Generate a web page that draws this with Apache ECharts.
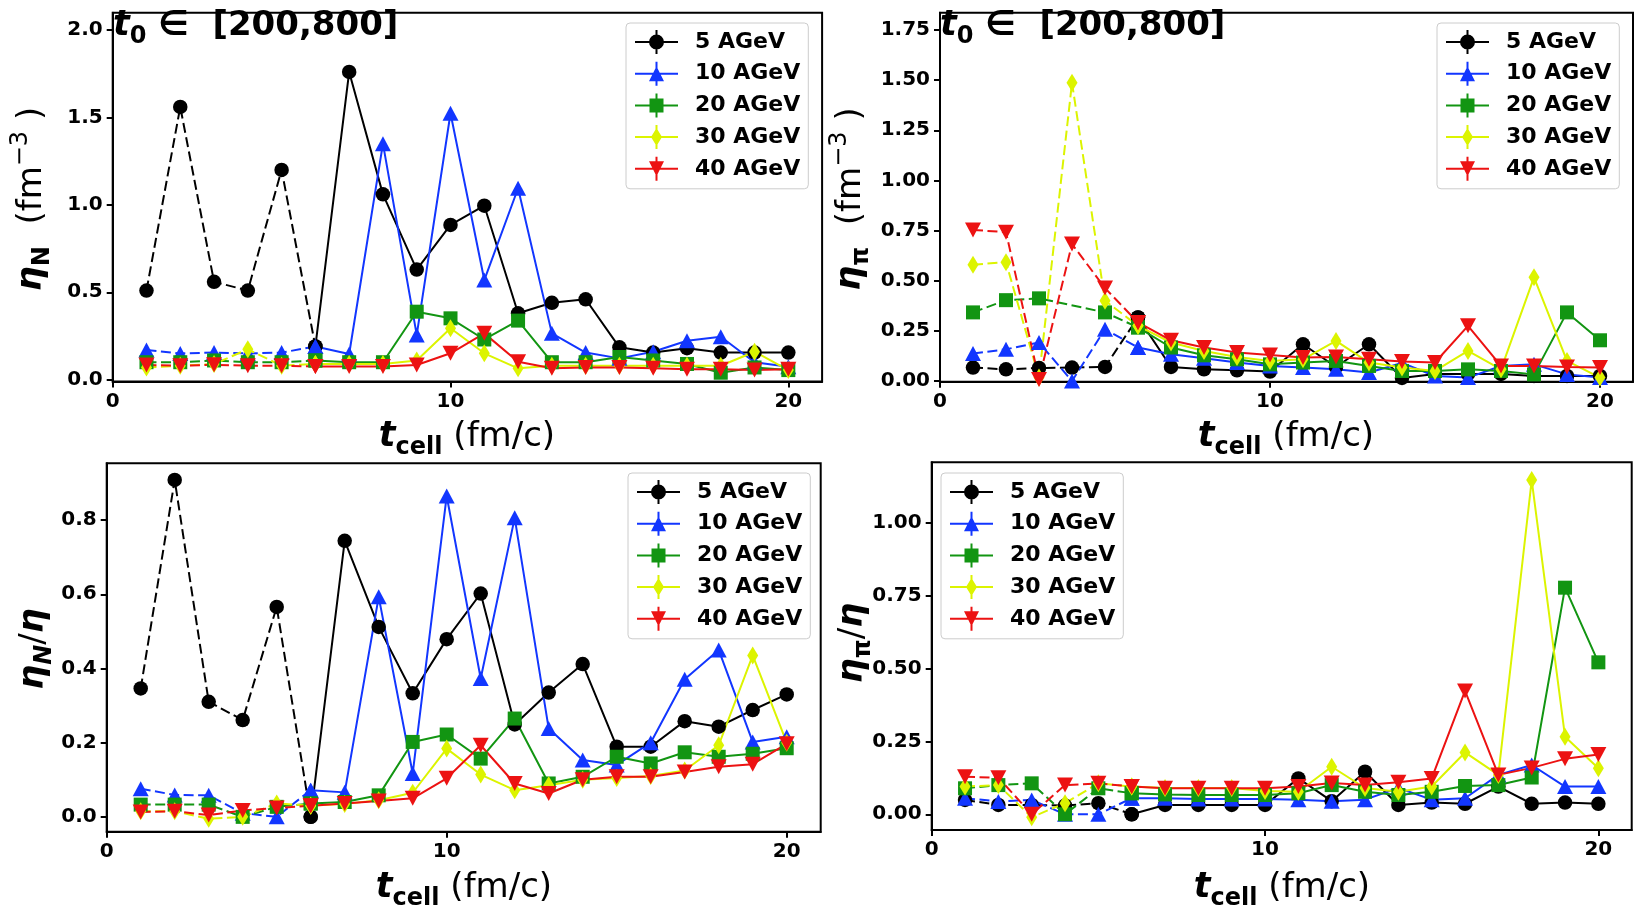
<!DOCTYPE html>
<html>
<head>
<meta charset="utf-8">
<script src="https://cdn.jsdelivr.net/npm/echarts@6/dist/echarts.min.js"></script>
<style>
  html, body { margin: 0; padding: 0; background: #ffffff; }
  #chart { width: 1634px; height: 907px; }
</style>
</head>
<body>
<div id="chart"></div>
<script>
// ---- data -------------------------------------------------------------
const tCell = [1, 2, 3, 4, 5, 6, 7, 8, 9, 10, 11, 12, 13, 14, 15, 16, 17, 18, 19, 20];
const energyLabels = ['5 AGeV', '10 AGeV', '20 AGeV', '30 AGeV', '40 AGeV'];

// nucleon density eta_N (fm^-3)
const etaN_5  = [0.51, 1.56, 0.56, 0.51, 1.20, 0.19, 1.76, 1.06, 0.63, 0.885, 0.995, 0.38, 0.44, 0.46, 0.185, 0.155, 0.18, 0.155, 0.155, 0.155];
const etaN_10 = [0.17, 0.15, 0.155, 0.15, 0.155, 0.19, 0.147, 1.35, 0.256, 1.524, 0.57, 1.095, 0.265, 0.155, 0.122, 0.16, 0.223, 0.246, 0.10, 0.074];
const etaN_20 = [0.10, 0.10, 0.11, 0.10, 0.10, 0.11, 0.10, 0.10, 0.389, 0.351, 0.23, 0.338, 0.10, 0.10, 0.13, 0.11, 0.09, 0.04, 0.07, 0.055];
const etaN_30 = [0.07, 0.08, 0.09, 0.174, 0.08, 0.09, 0.09, 0.09, 0.11, 0.294, 0.151, 0.065, 0.08, 0.08, 0.08, 0.08, 0.08, 0.08, 0.16, 0.055];
const etaN_40 = [0.084, 0.08, 0.085, 0.08, 0.08, 0.075, 0.075, 0.075, 0.084, 0.151, 0.265, 0.103, 0.065, 0.07, 0.07, 0.065, 0.06, 0.06, 0.055, 0.06];

// pion density eta_pi (fm^-3); null = no point at that time
const etaPi_5  = [0.067, 0.058, 0.065, 0.067, 0.07, 0.317, 0.07, 0.058, 0.053, 0.047, 0.183, 0.07, 0.183, 0.015, 0.035, 0.035, 0.035, 0.025, 0.025, 0.025];
const etaPi_10 = [0.137, 0.158, 0.192, 0.0, 0.258, 0.167, 0.133, 0.113, 0.092, 0.075, 0.067, 0.058, 0.042, 0.09, 0.025, 0.017, 0.075, 0.083, 0.033, 0.017];
const etaPi_20 = [0.342, 0.403, 0.412, null, 0.342, 0.267, 0.167, 0.128, 0.108, 0.083, 0.092, 0.10, 0.075, 0.05, 0.05, 0.058, 0.05, 0.033, 0.342, 0.203];
const etaPi_30 = [0.58, 0.592, 0.017, 1.487, 0.40, 0.275, 0.192, 0.15, 0.12, 0.10, 0.108, 0.20, 0.092, 0.067, 0.05, 0.15, 0.058, 0.517, 0.10, 0.017];
const etaPi_40 = [0.753, 0.742, 0.008, 0.683, 0.463, 0.292, 0.203, 0.167, 0.142, 0.13, 0.117, 0.12, 0.108, 0.097, 0.092, 0.275, 0.075, 0.075, 0.07, 0.067];

// nucleon fraction eta_N / eta
const fracN_5  = [0.346, 0.908, 0.310, 0.261, 0.566, 0.0, 0.744, 0.512, 0.333, 0.479, 0.602, 0.249, 0.335, 0.412, 0.189, 0.189, 0.258, 0.243, 0.288, 0.330];
const fracN_10 = [0.076, 0.059, 0.058, 0.01, 0.0, 0.072, 0.066, 0.593, 0.117, 0.865, 0.373, 0.806, 0.238, 0.153, 0.14, 0.2, 0.371, 0.45, 0.202, 0.216];
const fracN_20 = [0.033, 0.033, 0.033, 0.0, 0.027, 0.036, 0.04, 0.058, 0.202, 0.222, 0.157, 0.265, 0.09, 0.108, 0.162, 0.144, 0.174, 0.162, 0.17, 0.185];
const fracN_30 = [0.015, 0.015, -0.005, 0.0, 0.036, 0.03, 0.035, 0.045, 0.065, 0.184, 0.114, 0.072, 0.085, 0.1, 0.105, 0.11, 0.125, 0.193, 0.435, 0.2];
const fracN_40 = [0.013, 0.015, 0.005, 0.017, 0.024, 0.03, 0.036, 0.043, 0.05, 0.104, 0.193, 0.09, 0.063, 0.1, 0.108, 0.108, 0.121, 0.135, 0.142, 0.197];

// pion fraction eta_pi / eta
const fracPi_5  = [0.049, 0.032, 0.032, 0.03, 0.038, 0.0, 0.032, 0.032, 0.032, 0.032, 0.123, 0.045, 0.146, 0.032, 0.04, 0.036, 0.095, 0.036, 0.04, 0.036];
const fracPi_10 = [0.055, 0.044, 0.049, 0.0, 0.0, 0.055, 0.055, 0.052, 0.052, 0.052, 0.05, 0.045, 0.05, 0.09, 0.05, 0.055, 0.135, 0.169, 0.095, 0.095];
const fracPi_20 = [0.089, 0.10, 0.106, 0.0, 0.089, 0.072, 0.068, 0.066, 0.066, 0.066, 0.072, 0.10, 0.077, 0.066, 0.077, 0.097, 0.1, 0.126, 0.777, 0.521];
const fracPi_30 = [0.095, 0.10, -0.01, 0.038, 0.106, 0.095, 0.09, 0.09, 0.09, 0.08, 0.077, 0.163, 0.09, 0.077, 0.095, 0.212, 0.135, 1.146, 0.266, 0.158];
const fracPi_40 = [0.129, 0.125, 0.0, 0.1, 0.106, 0.095, 0.089, 0.089, 0.089, 0.089, 0.095, 0.107, 0.1, 0.11, 0.123, 0.423, 0.135, 0.159, 0.19, 0.205];

// tick labels
const xTicks = [0, 10, 20];
const yTicksEtaN = [0.0, 0.5, 1.0, 1.5, 2.0];
const yTicksEtaPi = [0.0, 0.25, 0.5, 0.75, 1.0, 1.25, 1.5, 1.75];
const yTicksFracN = [0.0, 0.2, 0.4, 0.6, 0.8];
const yTicksFracPi = [0.0, 0.25, 0.5, 0.75, 1.0];

// ---- styling ----------------------------------------------------------
const FONT = 'DejaVu Sans';
const energyColors = ['#000000', '#1236ff', '#129512', '#dcf400', '#ec1212'];
const markers = [
  { symbol: 'circle',   size: 14.5,     rotate: 0 },
  { symbol: 'triangle', size: [16, 15], rotate: 0 },
  { symbol: 'rect',     size: 14,       rotate: 0 },
  { symbol: 'diamond',  size: [11, 18], rotate: 0 },
  { symbol: 'triangle', size: [16, 15], rotate: 180 }
];
// legend handles: line + error bar + marker, drawn in a 43x24 box
const barPaths = 'M0 11 L43 11 L43 13 L0 13 Z M20.5 0 L22.5 0 L22.5 24 L20.5 24 Z ';
const legendIcons = [
  'path://' + barPaths + 'M14 12 A7.5 7.5 0 1 1 29 12 A7.5 7.5 0 1 1 14 12 Z',
  'path://' + barPaths + 'M21.5 4.5 L29 19.5 L14 19.5 Z',
  'path://' + barPaths + 'M14.5 5 L28.5 5 L28.5 19 L14.5 19 Z',
  'path://' + barPaths + 'M21.5 3 L27 12 L21.5 21 L16 12 Z',
  'path://' + barPaths + 'M14 4.5 L29 4.5 L21.5 19.5 Z'
];

const panels = [
  { values: [etaN_5, etaN_10, etaN_20, etaN_30, etaN_40], yTicks: yTicksEtaN, dec: 1,
    grid: { left: 112.7, top: 12.7, width: 709.4, height: 368.8 }, yMin: -0.0103, yMax: 2.099,
    legendPos: { left: 626, top: 23 } },
  { values: [etaPi_5, etaPi_10, etaPi_20, etaPi_30, etaPi_40], yTicks: yTicksEtaPi, dec: 2,
    grid: { left: 940, top: 12.7, width: 693, height: 369 }, yMin: -0.0035, yMax: 1.836,
    legendPos: { left: 1437, top: 23 } },
  { values: [fracN_5, fracN_10, fracN_20, fracN_30, fracN_40], yTicks: yTicksFracN, dec: 1,
    grid: { left: 106.7, top: 463.3, width: 714, height: 368.4 }, yMin: -0.040, yMax: 0.953,
    legendPos: { left: 628, top: 473 } },
  { values: [fracPi_5, fracPi_10, fracPi_20, fracPi_30, fracPi_40], yTicks: yTicksFracPi, dec: 2,
    grid: { left: 931.7, top: 462.3, width: 700, height: 367.7 }, yMin: -0.054, yMax: 1.207,
    legendPos: { left: 941, top: 473 } }
];

function pairs(vals, from, to) {
  const out = [];
  for (let i = from; i <= to; i++) {
    if (vals[i] !== null) out.push([tCell[i], vals[i]]);
  }
  return out;
}

const grids = [], xAxes = [], yAxes = [], series = [], legends = [];
panels.forEach((p, pi) => {
  grids.push(Object.assign({ show: true, borderColor: '#000', borderWidth: 2, backgroundColor: 'transparent' }, p.grid));
  xAxes.push({
    gridIndex: pi, type: 'value', min: 0, max: 21,
    axisLine: { show: true, onZero: false, lineStyle: { color: '#000', width: 2 } },
    axisTick: { show: true, length: 6, customValues: xTicks, lineStyle: { color: '#000', width: 2 } },
    axisLabel: { customValues: xTicks, margin: 10, fontSize: 20, fontWeight: 'bold', fontFamily: FONT, color: '#000' },
    splitLine: { show: false }
  });
  yAxes.push({
    gridIndex: pi, type: 'value', min: p.yMin, max: p.yMax,
    axisLine: { show: true, onZero: false, lineStyle: { color: '#000', width: 2 } },
    axisTick: { show: true, length: 6, customValues: p.yTicks, lineStyle: { color: '#000', width: 2 } },
    axisLabel: { customValues: p.yTicks, margin: 10, fontSize: 20, fontWeight: 'bold', fontFamily: FONT, color: '#000',
                 formatter: (v) => Number(v).toFixed(p.dec) },
    splitLine: { show: false }
  });
  p.values.forEach((vals, ei) => {
    const m = markers[ei];
    const color = energyColors[ei];
    const base = {
      type: 'line', name: energyLabels[ei], xAxisIndex: pi, yAxisIndex: pi,
      symbol: m.symbol, symbolSize: m.size, symbolRotate: m.rotate, showAllSymbol: true,
      itemStyle: { color: color, borderWidth: 0 },
      emphasis: { disabled: true }, animation: false, clip: true, silent: true
    };
    // early times (t <= 6) dashed, later times solid
    series.push(Object.assign({}, base, { data: pairs(vals, 0, 5),
      lineStyle: { color: color, width: 2, type: [10, 4.5] } }));
    series.push(Object.assign({}, base, { data: pairs(vals, 5, 19),
      lineStyle: { color: color, width: 2, type: 'solid' } }));
  });
  legends.push({
    left: p.legendPos.left, top: p.legendPos.top, orient: 'vertical',
    data: energyLabels.map((n, i) => ({ name: n, icon: legendIcons[i] })),
    itemWidth: 43, itemHeight: 24, itemGap: 7.7,
    padding: [7, 8, 8, 9],
    backgroundColor: 'rgba(255,255,255,0.8)', borderColor: '#cccccc', borderWidth: 1, borderRadius: 4,
    itemStyle: { borderWidth: 0 },
    textStyle: { fontSize: 22, fontWeight: 'bold', fontFamily: FONT, color: '#000', padding: [0, 0, 0, 12] },
    selectedMode: false
  });
});

// ---- axis titles and annotations --------------------------------------
const mathRich = {
  m:  { fill: '#000', fontSize: 35, fontWeight: 'bold', fontStyle: 'italic', fontFamily: FONT, lineHeight: 46 },
  mb: { fill: '#000', fontSize: 34, fontWeight: 'bold', fontFamily: FONT, lineHeight: 46 },
  r:  { fill: '#000', fontSize: 34, fontFamily: FONT, lineHeight: 46 },
  s:  { fill: '#000', fontSize: 24, fontWeight: 'bold', fontFamily: FONT, lineHeight: 24, verticalAlign: 'bottom' },
  si: { fill: '#000', fontSize: 24, fontWeight: 'bold', fontStyle: 'italic', fontFamily: FONT, lineHeight: 24, verticalAlign: 'bottom' },
  p:  { fill: '#000', fontSize: 24, fontFamily: FONT, lineHeight: 24, verticalAlign: 'top' }
};
function label(text, x, y, rot, align) {
  return {
    type: 'text', x: x, y: y, rotation: rot || 0, z: 10, silent: true,
    style: { text: text, rich: mathRich, fill: '#000', align: align || 'center', verticalAlign: 'middle' }
  };
}
const xTitle = '{m|t}{s|cell}{r| (fm/c)}';
const graphics = [
  label(xTitle, 467, 437),
  label(xTitle, 1286, 437),
  label(xTitle, 464, 888),
  label(xTitle, 1282, 888),
  label('{m|η}{s|N}{r|  (fm}{p|−3}{r| )}', 32, 199, Math.PI / 2),
  label('{m|η}{s|π}{r|  (fm}{p|−3}{r| )}', 851, 199, Math.PI / 2),
  label('{m|η}{si|N}{r|/}{m|η}', 34, 649, Math.PI / 2),
  label('{m|η}{s|π}{r|/}{m|η}', 853, 643, Math.PI / 2),
  label('{m|t}{s|0}{mb| ∈  [200,800]}', 113, 26, 0, 'left'),
  label('{m|t}{s|0}{mb| ∈  [200,800]}', 940, 26, 0, 'left')
];

const chart = echarts.init(document.getElementById('chart'), null, { renderer: 'canvas' });
chart.setOption({
  backgroundColor: '#ffffff',
  animation: false,
  grid: grids,
  xAxis: xAxes,
  yAxis: yAxes,
  legend: legends,
  series: series,
  graphic: graphics
});
</script>
</body>
</html>
